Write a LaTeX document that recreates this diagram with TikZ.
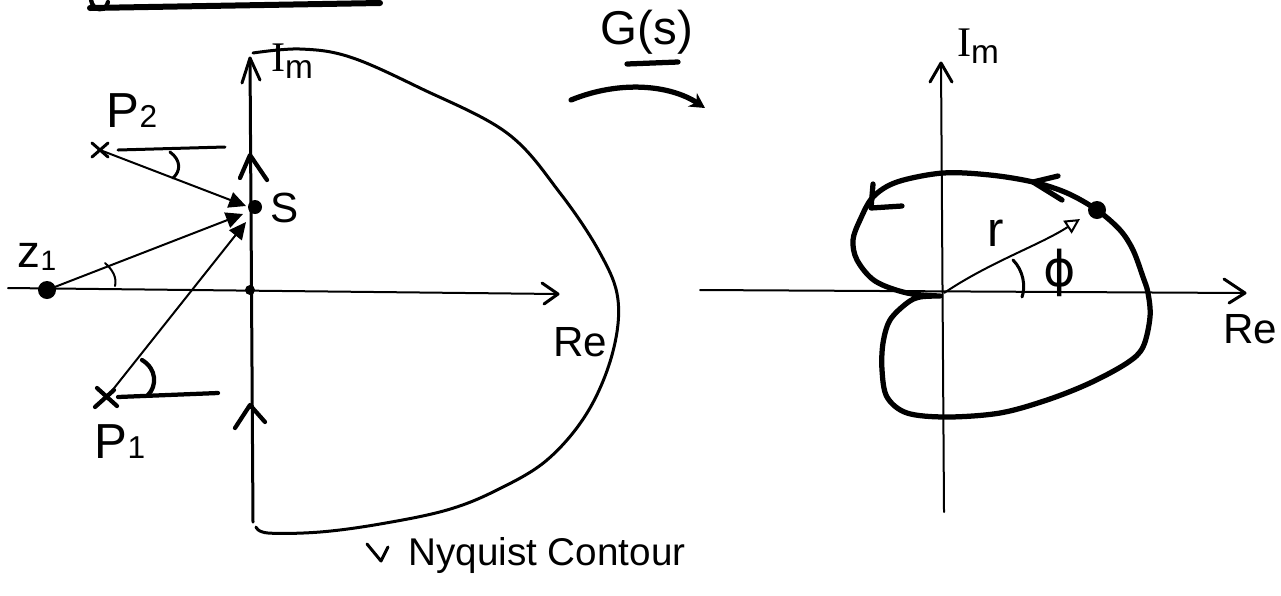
\documentclass[tikz,border=0pt]{standalone}
\usepackage{fontspec}
\setmainfont{Liberation Sans}
\newfontfamily\serifI{Liberation Serif}
\newfontfamily\dejavu{DejaVu Sans}
\usetikzlibrary{arrows.meta}
\begin{document}
\begin{tikzpicture}[x=0.2mm,y=-0.2mm,
  thinln/.style={line width=0.4mm, line cap=round},
  medln/.style={line width=0.6mm, line cap=round, line join=round},
  boldln/.style={line width=0.85mm, line cap=round, line join=round},
  thickln/.style={line width=1.05mm, line cap=round, line join=round},
  lbl/.style={inner sep=0pt, font=\fontsize{24}{26}\selectfont},
  ray/.style={line width=0.4mm, -{Triangle[length=3.4mm,width=3.2mm]}},
  imlabel/.style={lbl, font=\fontsize{24}{26}\selectfont}]
\useasboundingbox (0,0) rectangle (1281,595);

% ---------- title fragment (cut off) ----------
\draw[line width=1.2mm, line cap=round] (90,8) -- (380,3);
\draw[boldln] (91,0) .. controls (93,12) and (106,12) .. (108,2);

% ---------- left plane ----------
\coordinate (O1) at (250,290);
\coordinate (ImTop) at (250,58);
\coordinate (ImBot) at (253,522);
\coordinate (ReL) at (8,288);
\coordinate (ReR) at (558,294);
\coordinate (s) at (255,207);
\coordinate (sa1) at (246,206);
\coordinate (sa2) at (243,214);
\coordinate (sa3) at (246,222);
\coordinate (z1) at (47,290);
\coordinate (p2) at (100,150);
\coordinate (p1) at (107,397);

\draw[thinln] (ReL) -- (ReR);
\draw[medln] (542,283) -- (ReR) -- (544,304);
\draw[medln] (ImBot) -- (ImTop);
\draw[medln] (242,83) -- (ImTop) -- (260,80);
\draw[boldln] (240,178) -- (250,155) -- (267,180);
\draw[boldln] (235,428) -- (250,405) -- (265,422);
\fill (O1) circle (1mm);

% Nyquist contour
\draw[medln] plot[smooth, tension=0.6] coordinates {(253,53) (300,49) (350,57) (420,88) (507,133) (560,193) (600,253) (618,300) (612,355) (587,413) (547,460) (497,490) (447,510) (380,524) (320,532) (268,533) (256,527)};

% poles, zero, rays
\draw[medln] (92,143) -- (108,157) (92,157) -- (108,143);
\draw[boldln] (97,388) -- (117,406) (95,407) -- (114,390);
\fill (z1) circle (1.8mm);
\draw[ray] (p2) -- (sa1);
\draw[ray] (z1) -- (sa2);
\draw[ray] (p1) -- (sa3);
\fill (s) circle (1.4mm);

% horizontal references and angles
\draw[medln] (118,150) -- (225,147);
\draw[boldln] (118,397) -- (218,393);
\draw[medln] (170,152) .. controls (181,160) and (181,171) .. (173,178);
\draw[thinln] (105,263) .. controls (113,270) and (117,278) .. (115,286);
\draw[boldln] (142,360) .. controls (157,369) and (157,386) .. (148,395);

% left labels
\node[imlabel] (lIm) at (292,61) {{\serifI I}\raisebox{-1.4mm}{\fontsize{19}{19}\selectfont m}};
\node[lbl] (lRe) at (580,342) {Re};
\node[lbl] (lS) at (285,208) {S};
\node[lbl] (lz1) at (37,257) {{\fontsize{26}{26}\selectfont z}\raisebox{-0.5mm}{\fontsize{16}{16}\selectfont 1}};
\node[lbl] (lP2) at (132,111) {{\fontsize{28}{28}\selectfont P}{\fontsize{18}{18}\selectfont 2}};
\node[lbl] (lP1) at (120,442) {{\fontsize{28}{28}\selectfont P}{\fontsize{18}{18}\selectfont 1}};

% Nyquist contour label
\draw[medln] (367,544) -- (381,561) -- (388,547);
\node[lbl, font=\fontsize{22}{24}\selectfont, anchor=west] (lNyq) at (408,555) {Nyquist Contour};

% ---------- mapping arrow ----------
\node[lbl, font=\fontsize{27}{29}\selectfont] (lG) at (647,32) {G(s)};
\draw[thickln] (627,64) -- (678,62);
\coordinate (mapA) at (571,100);
\coordinate (mapB) at (705,108);
\draw[thickln, -{Stealth[length=3mm,width=3.2mm]}] (mapA) .. controls (620,80) and (670,85) .. (mapB);

% ---------- right plane ----------
\coordinate (O2) at (944,293);
\coordinate (RImTop) at (941,63);
\coordinate (RImBot) at (944,512);
\coordinate (RReL) at (700,290);
\coordinate (RReR) at (1245,293);
\coordinate (G1) at (1097,210);
\coordinate (Gtip) at (1080,219);

\draw[thinln] (RReL) -- (RReR);
\draw[medln] (1224,279) -- (RReR) -- (1229,303);
\draw[thinln] (RImBot) -- (RImTop);
\draw[medln] (930,82) -- (RImTop) -- (952,82);

% G(s) curve
\draw[thickln] plot[smooth, tension=0.55] coordinates {(940,296) (907,293) (875,281) (857,260) (853,240) (860,220) (873,197) (897,182) (943,173) (990,175) (1033,182) (1067,193) (1097,210) (1120,230) (1133,250) (1143,277) (1148,293) (1150,317) (1143,347) (1127,363) (1090,383) (1047,400) (1000,413) (947,417) (907,413) (887,397) (882,370) (883,343) (890,320) (907,303) (920,297) (940,296)};
\draw[thickln] (1058,176) -- (1033,182) -- (1062,200);
\draw[thickln] (873,184) -- (871,208) -- (902,206);
\fill (G1) circle (1.8mm);
\draw[line width=0.4mm, -{Triangle[open,length=3mm,width=3mm]}] (O2) .. controls (990,262) and (1040,245) .. (Gtip);
\draw[medln] (1013,260) .. controls (1023,270) and (1026,286) .. (1022,297);

% right labels
\node[imlabel] (rIm) at (978,46) {{\serifI I}\raisebox{-1.4mm}{\fontsize{19}{19}\selectfont m}};
\node[lbl] (rRe) at (1250,329) {Re};
\node[lbl, font=\fontsize{28}{28}\selectfont] (rr) at (996,233) {r};
\node[lbl, font=\dejavu\fontsize{28}{30}\selectfont] (rphi) at (1060,273) {ϕ};
\end{tikzpicture}
\end{document}
